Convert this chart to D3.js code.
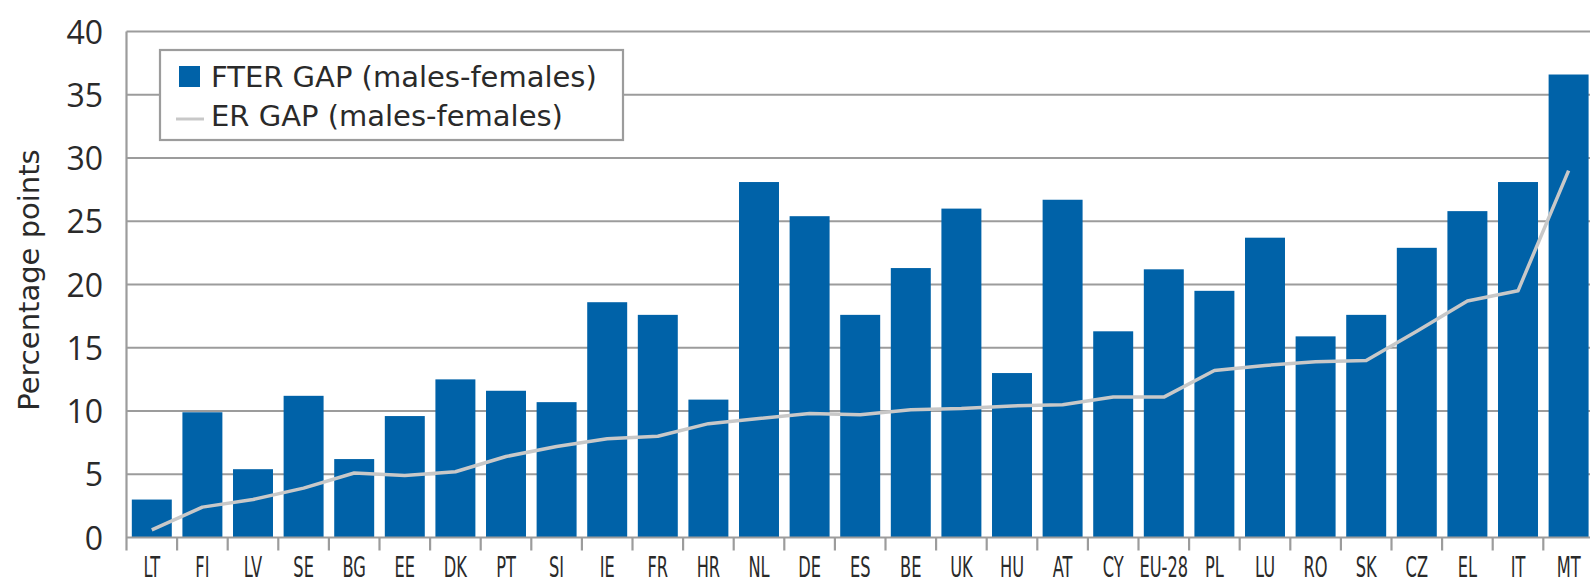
<!DOCTYPE html>
<html>
<head>
<meta charset="utf-8">
<script src="https://cdn.jsdelivr.net/npm/d3@7"></script>
<style>
  html, body { margin: 0; padding: 0; background: #fff; }
  svg { display: block; }
</style>
</head>
<body>
<svg id="chart" width="1590" height="585"></svg>
<script>
const categories = ["LT","FI","LV","SE","BG","EE","DK","PT","SI","IE","FR","HR","NL","DE","ES","BE","UK","HU","AT","CY","EU-28","PL","LU","RO","SK","CZ","EL","IT","MT"];
const fterGap = [3.0,9.9,5.4,11.2,6.2,9.6,12.5,11.6,10.7,18.6,17.6,10.9,28.1,25.4,17.6,21.3,26.0,13.0,26.7,16.3,21.2,19.5,23.7,15.9,17.6,22.9,25.8,28.1,36.6];
const erGap = [0.6,2.4,3.0,3.9,5.1,4.9,5.2,6.4,7.2,7.8,8.0,9.0,9.4,9.8,9.7,10.1,10.2,10.4,10.5,11.1,11.1,13.2,13.6,13.9,14.0,16.3,18.7,19.5,29.0];
const yTicks = [0,5,10,15,20,25,30,35,40];
const seriesNames = ["FTER GAP (males-females)", "ER GAP (males-females)"];

const svg = d3.select("#chart");
const plotLeft = 126.5, step = 50.6;
const plotRight = plotLeft + step * categories.length;
const plotTop = 31.5, plotBottom = 537.5;

const x = d3.scaleBand().domain(categories).range([plotLeft, plotRight]).paddingInner(0.21).paddingOuter(0.105);
const y = d3.scaleLinear().domain([0, 40]).range([plotBottom, plotTop]);

const gridColor = "#9c9c9c";
const barColor = "#0062a8";
const lineColor = "#c8c8c8";
const textColor = "#2a2a2a";

// gridlines
svg.append("g").selectAll("line").data(yTicks.filter(d => d > 0)).join("line")
  .attr("x1", plotLeft).attr("x2", 1590)
  .attr("y1", d => y(d)).attr("y2", d => y(d))
  .attr("stroke", gridColor).attr("stroke-width", 2.2);

// y axis labels
const yAxis = d3.axisLeft(y).tickValues(yTicks).tickSize(0).tickPadding(0).tickFormat(d3.format("d"));
const yg = svg.append("g").attr("transform", `translate(103,0)`).call(yAxis);
yg.select(".domain").remove();
yg.selectAll("text").attr("font-family", "Open Sans").attr("font-size", 32).attr("fill", textColor).attr("dy", "0.36em");

// y title
svg.append("text")
  .attr("transform", `translate(39,280) rotate(-90)`)
  .attr("text-anchor", "middle")
  .attr("font-family", "DejaVu Sans").attr("font-size", 29).attr("fill", textColor)
  .text("Percentage points");

// bars
svg.append("g").selectAll("rect").data(categories).join("rect")
  .attr("x", (d) => x(d))
  .attr("width", x.bandwidth())
  .attr("y", (d, i) => y(fterGap[i]))
  .attr("height", (d, i) => y(0) - y(fterGap[i]))
  .attr("fill", barColor);

// line
const line = d3.line().x((d, i) => x(categories[i]) + x.bandwidth() / 2).y(d => y(d));
svg.append("path").datum(erGap)
  .attr("d", line)
  .attr("fill", "none").attr("stroke", lineColor).attr("stroke-width", 3.5)
  .attr("stroke-linejoin", "round");

// axes lines
svg.append("line").attr("x1", plotLeft).attr("x2", plotLeft).attr("y1", plotTop).attr("y2", plotBottom + 13)
  .attr("stroke", gridColor).attr("stroke-width", 2.2);
svg.append("line").attr("x1", plotLeft).attr("x2", 1590).attr("y1", plotBottom).attr("y2", plotBottom)
  .attr("stroke", gridColor).attr("stroke-width", 2.2);

// boundary ticks
svg.append("g").selectAll("line").data(categories.slice(1)).join("line")
  .attr("x1", d => x(d) - x.step() * x.paddingInner() / 2)
  .attr("x2", d => x(d) - x.step() * x.paddingInner() / 2)
  .attr("y1", plotBottom).attr("y2", plotBottom + 13)
  .attr("stroke", gridColor).attr("stroke-width", 2.2);

// x labels
const xAxis = d3.axisBottom(x).tickSize(0).tickPadding(0);
const xg = svg.append("g").attr("transform", `translate(0,${plotBottom})`).call(xAxis);
xg.select(".domain").remove();
xg.selectAll(".tick text")
  .attr("font-family", "DejaVu Sans").attr("font-size", 28).attr("fill", textColor)
  .attr("y", 0).attr("dy", 0)
  .attr("transform", "translate(0,39) scale(0.58,1)");

// legend
const lg = svg.append("g");
lg.append("rect").attr("x", 160).attr("y", 50).attr("width", 463).attr("height", 90)
  .attr("fill", "#fff").attr("stroke", gridColor).attr("stroke-width", 2.2);
lg.append("rect").attr("x", 179).attr("y", 66).attr("width", 21).attr("height", 21).attr("fill", barColor);
lg.append("line").attr("x1", 176).attr("x2", 204).attr("y1", 119).attr("y2", 119)
  .attr("stroke", lineColor).attr("stroke-width", 3);
lg.selectAll("text").data(seriesNames).join("text")
  .attr("x", 211).attr("y", (d, i) => i === 0 ? 87 : 126)
  .attr("font-family", "DejaVu Sans").attr("font-size", 29).attr("fill", textColor)
  .text(d => d);
</script>
</body>
</html>
